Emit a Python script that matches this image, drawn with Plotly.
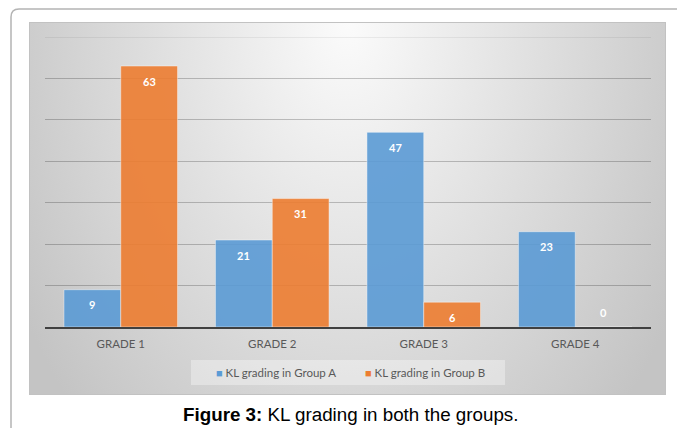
import base64
import plotly.graph_objects as go

# ---- data ----
grades = ["GRADE 1", "GRADE 2", "GRADE 3", "GRADE 4"]
group_a = [9, 21, 47, 23]
group_b = [63, 31, 6, 0]
series_names = ["KL grading in Group A", "KL grading in Group B"]
series_colors = ["#5B9BD5", "#ED7D31"]
y_max = 70
y_step = 10

W, H = 677, 428
# plot-area box in pixels
L, R, T, B = 45, 651, 37, 327
BARGAP = 0.25
GRID = "rgba(0,0,0,0.22)"


def fx(px):
    return (px - L) / (R - L)


def fy(py):
    return (B - py) / (B - T)


# radial gray gradient for the chart background
cw, ch = 637, 373
svg = f'''<svg xmlns="http://www.w3.org/2000/svg" width="{cw}" height="{ch}" viewBox="0 0 {cw} {ch}">
<defs><radialGradient id="g" gradientUnits="userSpaceOnUse" cx="{cw/2}" cy="0" r="380"
 gradientTransform="translate({cw/2} 0) scale(1 1.47) translate({-cw/2} 0)">
<stop offset="0" stop-color="#fbfbfb"/><stop offset="1" stop-color="#c4c4c4"/></radialGradient></defs>
<rect x="0" y="0" width="{cw}" height="{ch}" fill="url(#g)"/>
<rect x="0.5" y="0.5" width="{cw-1}" height="{ch-1}" fill="none" stroke="#c2c2c2" stroke-width="1"/>
</svg>'''
bg_uri = "data:image/svg+xml;base64," + base64.b64encode(svg.encode()).decode()

fig = go.Figure()
for name, vals, col in zip(series_names, [group_a, group_b], series_colors):
    fig.add_trace(go.Bar(
        x=grades, y=vals, name=name,
        marker=dict(color=col, opacity=0.9,
                    line=dict(color="rgba(255,255,255,0.45)", width=1)),
        showlegend=False,
    ))

# value labels, positioned in data units at each grouped bar's centre
n = len(series_names)
bw = (1 - BARGAP) / n
annotations = []
for k, vals in enumerate([group_a, group_b]):
    off = -(1 - BARGAP) / 2 + bw * (k + 0.5)
    for i, v in enumerate(vals):
        annotations.append(dict(
            x=i + off, y=v, xref="x", yref="y",
            text=f"<b>{v}</b>", showarrow=False,
            yshift=-15 if v > 0 else 15,
            font=dict(family="Lato", size=11, color="white"),
        ))

# legend box entries
legend_centers = [275.5, 425]
for name, col, cx in zip(series_names, series_colors, legend_centers):
    annotations.append(dict(
        x=fx(cx), y=fy(372.5), xref="paper", yref="paper",
        xanchor="center", yanchor="middle", showarrow=False,
        text=f'<span style="color:{col};font-size:11px">■</span> {name}',
        font=dict(family="Lato", size=11.5, color="#595959"),
    ))

# figure caption
annotations.append(dict(
    x=fx(350.5), y=fy(414), xref="paper", yref="paper",
    xanchor="center", yanchor="middle", showarrow=False,
    text="<b>Figure 3:</b> KL grading in both the groups.",
    font=dict(family="Liberation Sans", size=18.8, color="black"),
))

# outer rounded frame (left and top edges)
x0, y0, r = 11, 9, 8
frame = (f"M {fx(x0)},{fy(H + 5)} L {fx(x0)},{fy(y0 + r)} "
         f"Q {fx(x0)},{fy(y0)} {fx(x0 + r)},{fy(y0)} L {fx(W + 5)},{fy(y0)}")

fig.update_layout(
    width=W, height=H,
    margin=dict(l=L, r=W - R, t=T, b=H - B),
    paper_bgcolor="white",
    plot_bgcolor="rgba(0,0,0,0)",
    barmode="group", bargap=BARGAP, bargroupgap=0,
    xaxis=dict(
        type="category", showgrid=False,
        showline=True, linecolor="#404040", linewidth=2,
        ticks="outside", ticklen=5, tickcolor="rgba(0,0,0,0)",
        tickfont=dict(family="Lato", size=11.5, color="#595959"),
        fixedrange=True,
    ),
    yaxis=dict(
        range=[0, y_max], dtick=y_step, showticklabels=False,
        showgrid=True, gridcolor=GRID, gridwidth=1,
        zeroline=False, fixedrange=True,
    ),
    images=[dict(
        source=bg_uri, xref="paper", yref="paper",
        x=fx(29), y=fy(22), sizex=(cw) / (R - L), sizey=(ch) / (B - T),
        xanchor="left", yanchor="top", sizing="stretch", layer="below",
    )],
    shapes=[
        dict(type="rect", xref="paper", yref="paper",
             x0=fx(191), x1=fx(505), y0=fy(385), y1=fy(360),
             fillcolor="rgba(255,255,255,0.35)", line=dict(width=0), layer="below"),
        # top gridline at the axis maximum
        dict(type="line", xref="paper", yref="y", x0=0, x1=1, y0=y_max, y1=y_max,
             line=dict(color="rgba(0,0,0,0.12)", width=1), layer="below"),
        dict(type="path", xref="paper", yref="paper", path=frame,
             line=dict(color="#b4b4b4", width=1.5)),
    ],
    annotations=annotations,
    showlegend=False,
)

fig.write_html("out.html")
